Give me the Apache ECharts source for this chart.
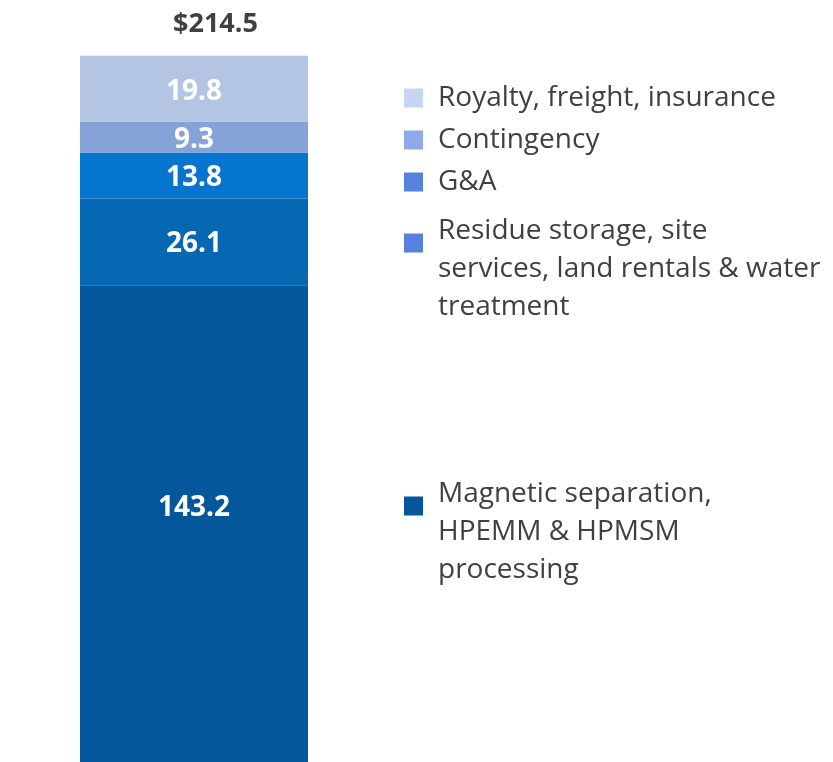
<!DOCTYPE html>
<html>
<head>
<meta charset="utf-8">
<script src="https://cdn.jsdelivr.net/npm/echarts@6/dist/echarts.min.js"></script>
<style>
  html, body { margin: 0; padding: 0; background: #fff; }
  #chart { width: 833px; height: 762px; }
</style>
</head>
<body>
<div id="chart"></div>
<script>
// data, bottom to top
var categories = ['Cost'];
var seriesNames = [
    'Magnetic separation, HPEMM & HPMSM processing',
    'Residue storage, site services, land rentals & water treatment',
    'G&A',
    'Contingency',
    'Royalty, freight, insurance'
];
// how the legend wraps each name
var legendLines = [
    ['Magnetic separation,', 'HPEMM & HPMSM', 'processing'],
    ['Residue storage, site', 'services, land rentals & water', 'treatment'],
    ['G&A'],
    ['Contingency'],
    ['Royalty, freight, insurance']
];
var seriesValues = [143.2, 26.1, 13.8, 9.3, 19.8];
var total = 214.5;

var barColors = ['#03579a', '#0667b2', '#0675cf', '#85a3d6', '#b4c5e4'];
var legendColors = ['#03579a', '#5781df', '#5781df', '#8ea9e6', '#c6d5f1'];
// legend box tops, bottom series first
var legendTops = [444, 181, 168, 126, 84];
var labelShift = [-16, 2, 3, 3, 3];

var fontFam = '"Open Sans", "Noto Sans", sans-serif';

var series = seriesNames.map(function (name, i) {
    return {
        name: name,
        type: 'bar',
        stack: 'total',
        barWidth: '100%',
        itemStyle: { color: barColors[i] },
        label: {
            show: true,
            position: 'inside',
            offset: [0, labelShift[i]],
            color: '#fff',
            fontFamily: fontFam,
            fontWeight: 'bold',
            fontSize: 28
        },
        emphasis: { disabled: true },
        data: [seriesValues[i]]
    };
});

var legends = seriesNames.map(function (name, i) {
    var lines = legendLines[i];
    return {
        left: 404,
        top: legendTops[i],
        padding: 0,
        icon: 'rect',
        itemWidth: 19,
        itemHeight: 19,
        selectedMode: false,
        data: [{ name: name, itemStyle: { color: legendColors[i] } }],
        formatter: function () {
            var txt = lines.map(function (l) { return '{t|' + l + '}'; }).join('\n');
            // spacer line keeps the square level with the first text line
            return lines.length > 1 ? '{s| }\n' + txt : txt;
        },
        textStyle: {
            color: '#404040',
            fontFamily: fontFam,
            fontSize: 28,
            rich: {
                t: {
                    color: '#404040',
                    fontFamily: fontFam,
                    fontSize: 28,
                    lineHeight: 38,
                    padding: [0, 0, 0, 10]
                },
                s: { fontSize: 10, lineHeight: 52 }
            }
        }
    };
});

var option = {
    animation: false,
    title: {
        text: '$' + total,
        left: 168,
        top: 6,
        textStyle: {
            color: '#404040',
            fontFamily: fontFam,
            fontWeight: 'bold',
            fontSize: 27
        }
    },
    legend: legends,
    grid: { left: 80, right: 525, top: 48, bottom: 0 },
    xAxis: {
        type: 'category',
        data: categories,
        show: false
    },
    yAxis: {
        type: 'value',
        min: 0,
        max: total,
        show: false
    },
    series: series
};

var chart = echarts.init(document.getElementById('chart'));
chart.setOption(option);
</script>
</body>
</html>
